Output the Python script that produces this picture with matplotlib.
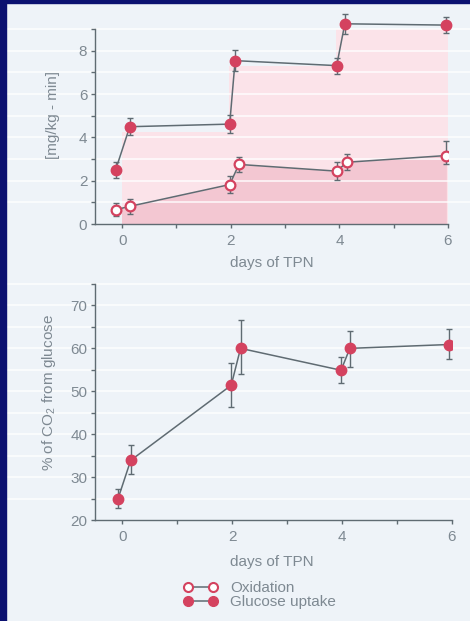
import numpy as np
import matplotlib.pyplot as plt
from matplotlib.patches import Rectangle
from matplotlib.lines import Line2D
from matplotlib.transforms import blended_transform_factory

# ===== data =====
days_uptake = [-0.12, 0.14, 1.98, 2.08, 3.95, 4.10, 5.97]
uptake = [2.50, 4.49, 4.61, 7.54, 7.31, 9.24, 9.18]
uptake_err = [0.37, 0.40, 0.40, 0.47, 0.37, 0.45, 0.38]

days_ox = [-0.12, 0.15, 1.98, 2.15, 3.95, 4.14, 5.97]
oxidation = [0.66, 0.82, 1.82, 2.75, 2.44, 2.85, 3.16]
ox_err_lo = [0.30, 0.35, 0.38, 0.35, 0.40, 0.37, 0.40]
ox_err_hi = [0.30, 0.35, 0.38, 0.35, 0.40, 0.37, 0.65]

# glucose infusion steps
infusion_days = [0, 1.97, 3.94, 6]
infusion_rate = [4.23, 7.27, 9.05]

days_co2 = [-0.08, 0.15, 1.98, 2.15, 3.98, 4.14, 5.95]
co2_pct = [25.0, 33.9, 51.4, 60.0, 54.9, 60.0, 60.9]
co2_lo = [2.3, 3.2, 5.0, 6.0, 3.0, 4.3, 3.3]
co2_hi = [2.3, 3.6, 5.3, 6.5, 3.2, 4.0, 3.5]

# ===== style =====
BG = "#eef3f8"
NAVY = "#0b1170"
RED = "#d4425f"
GREY = "#5f6b72"
TXT = "#7e8992"
PINK_LIGHT = "#fbe3e9"
PINK_DARK = "#f3c7d2"

plt.rcParams["font.family"] = ["Liberation Sans", "DejaVu Sans"]
plt.rcParams["mathtext.default"] = "regular"
plt.rcParams["font.size"] = 11

fig = plt.figure(figsize=(4.7, 6.21), dpi=100, facecolor=BG)
W, H = 470, 621

# navy frame on the left and top
fig.patches.append(Rectangle((0, 0), 6 / W, 1, transform=fig.transFigure,
                             color=NAVY, zorder=10))
fig.patches.append(Rectangle((0, 1 - 3 / H), 1, 3 / H, transform=fig.transFigure,
                             color=NAVY, zorder=10))

ax1 = fig.add_axes([95 / W, 1 - 224 / H, 353 / W, 195 / H])
ax2 = fig.add_axes([95 / W, 1 - 520 / H, 357 / W, 236 / H])


def style_axes(ax):
    ax.patch.set_visible(False)
    for s in ["top", "right"]:
        ax.spines[s].set_visible(False)
    for s in ["left", "bottom"]:
        ax.spines[s].set_color(GREY)
        ax.spines[s].set_linewidth(1.0)
    ax.tick_params(which="both", colors=GREY, labelcolor=TXT, length=3, width=1)
    ax.tick_params(axis="y", which="both", pad=2.5)
    ax.tick_params(axis="x", which="both", pad=4)
    ax.set_xlim(-0.5, 6)
    ax.set_xticks([0, 2, 4, 6])
    ax.set_xticks([1, 3, 5], minor=True)


def stripes(ax, values):
    # white rules running across the whole page at each tick level
    tr = blended_transform_factory(fig.transFigure, ax.transData)
    for v in values:
        ax.add_line(Line2D([6 / W, 1], [v, v], transform=tr, color="white",
                           lw=1.1, alpha=0.9, clip_on=False, zorder=1.5))


def err(ax, x, y, yerr):
    c = ax.errorbar(x, y, yerr=yerr, fmt="none", ecolor=GREY, elinewidth=1,
                    capsize=2.5, capthick=1, zorder=2)
    for a in c.lines[1] + c.lines[2]:
        a.set_clip_on(False)


# ----- top panel -----
style_axes(ax1)
ax1.set_ylim(0, 9)
ax1.set_yticks([0, 2, 4, 6, 8])
ax1.set_yticks([1, 3, 5, 7, 9], minor=True)
stripes(ax1, range(1, 10))

steps = infusion_rate + [infusion_rate[-1]]
ax1.fill_between(infusion_days, steps, step="post", color=PINK_LIGHT, lw=0, zorder=1)
dark = ax1.fill_between(days_ox, oxidation, color=PINK_DARK, lw=0, zorder=1.2)
dark.set_clip_path(Rectangle((0, 0), 6, 10, transform=ax1.transData))

err(ax1, days_uptake, uptake, uptake_err)
err(ax1, days_ox, oxidation, [ox_err_lo, ox_err_hi])
ax1.plot(days_uptake, uptake, color=GREY, lw=1.1, zorder=2.5, clip_on=False)
ax1.plot(days_ox, oxidation, color=GREY, lw=1.1, zorder=2.5)
ax1.plot(days_uptake, uptake, "o", ms=7.5, mfc=RED, mec=RED, zorder=3, clip_on=False)
ax1.plot(days_ox, oxidation, "o", ms=7, mfc="white", mec=RED, mew=1.6, zorder=3)

ax1.set_xlabel("days of TPN", color=TXT)
ax1.xaxis.set_label_coords(0.5, -0.164)
ax1.set_ylabel("[mg/kg - min]", color=TXT)
ax1.yaxis.set_label_coords(-0.100, 0.56)

# ----- bottom panel -----
style_axes(ax2)
ax2.set_ylim(20, 75)
ax2.set_yticks([20, 30, 40, 50, 60, 70])
ax2.set_yticks([25, 35, 45, 55, 65, 75], minor=True)
stripes(ax2, range(25, 80, 5))

err(ax2, days_co2, co2_pct, [co2_lo, co2_hi])
ax2.plot(days_co2, co2_pct, color=GREY, lw=1.1, zorder=2.5)
ax2.plot(days_co2, co2_pct, "o", ms=7.5, mfc=RED, mec=RED, zorder=3)

ax2.set_xlabel("days of TPN", color=TXT)
ax2.xaxis.set_label_coords(0.496, -0.148)
ax2.set_ylabel("% of CO$_2$ from glucose", color=TXT)
ax2.yaxis.set_label_coords(-0.105, 0.54)

# ----- legend -----
h_ox = Line2D([], [], color=GREY, lw=1.1, marker="o", ms=6.5, mfc="white",
              mec=RED, mew=1.5)
h_up = Line2D([], [], color=GREY, lw=1.1, marker="o", ms=7, mfc=RED, mec=RED)
leg = fig.legend([h_ox, h_up], ["Oxidation", "Glucose uptake"], loc="upper left",
                 bbox_to_anchor=(0.390, 0.064), frameon=False, numpoints=2,
                 handlelength=2.24, handletextpad=0.81, labelspacing=0.0,
                 handleheight=0.6, borderpad=0, borderaxespad=0)
for t in leg.get_texts():
    t.set_color(TXT)

fig.savefig("out.png", dpi=100, facecolor=BG)
